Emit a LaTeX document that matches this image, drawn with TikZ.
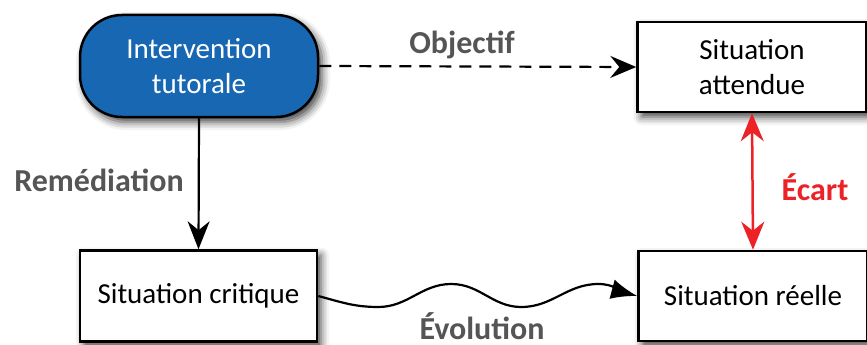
\documentclass[tikz,border=0pt]{standalone}
\usepackage{fontspec}
\setmainfont{Carlito}
\usetikzlibrary{arrows.meta,shadows.blur,positioning}
\definecolor{boxblue}{HTML}{1767B3}
\definecolor{lblgrey}{HTML}{555555}
\definecolor{ecartred}{HTML}{EC2227}
\tikzset{
  shadowed/.style={blur shadow={shadow xshift=4pt,shadow yshift=-5pt,shadow blur radius=8pt,shadow opacity=75}},
  whitebox/.style={draw=black,line width=2.5pt,fill=white,minimum width=229pt,minimum height=90pt,align=center,font=\fontsize{29}{35}\selectfont,inner sep=0pt,shadowed},
  bluebox/.style={draw=black,line width=2.5pt,fill=boxblue,text=white,rounded corners=42pt,minimum width=238pt,minimum height=102pt,align=center,font=\fontsize{29}{35}\selectfont,inner sep=0pt,shadowed},
  lbl/.style={font=\bfseries\fontsize{32}{38}\selectfont,text=lblgrey},
  conn/.style={line width=2.2pt,draw=black},
}
\begin{document}
\begin{tikzpicture}[x=1pt,y=-1pt]
\useasboundingbox (0,0) rectangle (867,345);
\node[bluebox] (interv) at (199,66) {Intervention\\tutorale};
\node[whitebox] (attendue) at (752,67) {Situation\\attendue};
\node[whitebox,minimum width=237pt,minimum height=91pt] (critique) at (198.5,296) {Situation critique};
\node[whitebox] (reelle) at (753,296) {Situation réelle};
\draw[conn,dash pattern=on 12pt off 8pt,-{Stealth[length=26pt,width=22pt,inset=9pt]}] (interv.east) -- (attendue.west);
\node[lbl] (objectif) at (462,45) {Objectif};
\draw[conn,-{Stealth[length=28pt,width=22pt,inset=9pt]}] (interv.south) -- (critique.north);
\node[lbl] (remed) at (99,180) {Remédiation};
\draw[line width=2.5pt,draw=ecartred,{Stealth[length=28pt,width=23pt,inset=9pt]}-{Stealth[length=28pt,width=23pt,inset=9pt]}] (attendue.south) -- (reelle.north);
\node[font=\bfseries\fontsize{32}{38}\selectfont,text=ecartred] (ecart) at (815,187) {Écart};
\draw[conn,-{Latex[length=26pt,width=20pt]}] (critique.east) to[out=-15,in=180] ++(60,11) to[out=0,in=180] ++(73,-23) to[out=0,in=180] ++(70,23) to[out=0,in=180] ++(77,-23) to[out=0,in=165] (reelle.west);
\node[lbl,inner sep=1pt] (evol) at (482,326) {Évolution};
\end{tikzpicture}
\end{document}
